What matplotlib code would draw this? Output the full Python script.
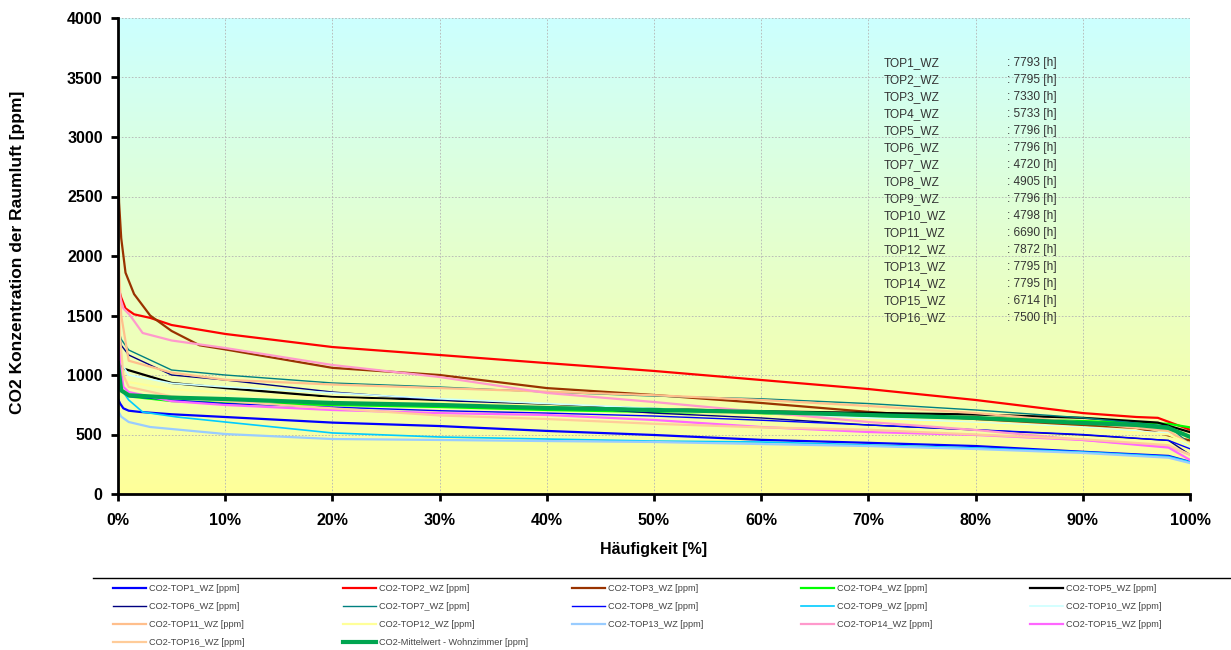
import numpy as np
import matplotlib
matplotlib.use("Agg")
import matplotlib.pyplot as plt
from matplotlib.lines import Line2D
from matplotlib.ticker import FuncFormatter, MultipleLocator

plt.rcParams['font.family'] = ['Liberation Sans', 'DejaVu Sans']

# ---- data: (Häufigkeit %, CO2 ppm) breakpoints ----
x_top1 = [0, 0.2, 0.5, 1, 2, 5, 10, 20, 30, 40, 50, 60, 70, 80, 90, 98, 100]
y_top1 = [800, 760, 720, 700, 690, 670, 647, 600, 571, 530, 496, 455, 430, 403, 355, 320, 270]

x_top2 = [0, 0.3, 0.7, 1.5, 3, 5, 10, 20, 30, 40, 50, 60, 70, 80, 90, 95, 97, 100]
y_top2 = [1750, 1650, 1560, 1510, 1480, 1420, 1345, 1235, 1168, 1100, 1034, 958, 882, 790, 680, 647, 640, 540]

x_top3 = [0, 0.1, 0.3, 0.7, 1.5, 3, 5, 7.6, 10, 20, 30, 40, 50, 60, 70, 80, 90, 95, 100]
y_top3 = [2850, 2450, 2150, 1860, 1680, 1500, 1370, 1250, 1215, 1060, 1000, 890, 832, 765, 690, 630, 580, 555, 450]

x_top4 = [0, 0.3, 1, 5, 10, 20, 30, 40, 50, 60, 70, 80, 90, 98, 100]
y_top4 = [1100, 880, 820, 781, 765, 748, 731, 706, 689, 672, 655, 639, 613, 590, 560]

x_top5 = [0, 0.3, 1, 5, 10, 20, 30, 40, 50, 60, 70, 80, 90, 97, 100]
y_top5 = [1200, 1060, 1040, 933, 890, 815, 790, 748, 715, 695, 682, 668, 640, 600, 520]

x_top6 = [0, 0.3, 1, 5, 10, 20, 30, 40, 50, 60, 70, 80, 90, 98, 100]
y_top6 = [1400, 1250, 1168, 1000, 958, 857, 790, 740, 680, 639, 580, 538, 496, 450, 330]

x_top7 = [0, 0.3, 1, 5, 10, 20, 30, 40, 50, 60, 70, 80, 90, 98, 100]
y_top7 = [1400, 1300, 1210, 1042, 1000, 933, 899, 857, 823, 800, 760, 706, 640, 570, 420]

x_top8 = [0, 0.3, 1, 5, 10, 20, 30, 40, 50, 60, 70, 80, 90, 98, 100]
y_top8 = [1000, 870, 820, 790, 760, 730, 700, 680, 655, 620, 580, 540, 500, 450, 380]

x_top9 = [0, 0.3, 1, 2.3, 5.5, 10, 20, 30, 40, 50, 60, 70, 80, 90, 98, 100]
y_top9 = [950, 880, 790, 689, 647, 605, 513, 479, 462, 445, 437, 412, 387, 353, 315, 270]

x_top10 = [0, 0.3, 1, 5, 10, 20, 30, 40, 50, 60, 70, 80, 90, 98, 100]
y_top10 = [1300, 1100, 1000, 930, 900, 850, 800, 760, 720, 680, 640, 600, 560, 510, 400]

x_top11 = [0, 0.1, 0.3, 1, 5, 10, 20, 30, 40, 50, 60, 70, 80, 90, 98, 100]
y_top11 = [2450, 1900, 1500, 1120, 1020, 960, 920, 890, 860, 830, 790, 740, 680, 600, 530, 420]

x_top12 = [0, 0.3, 1, 5, 10, 20, 30, 40, 50, 60, 70, 80, 90, 98, 100]
y_top12 = [1100, 980, 940, 880, 850, 800, 770, 740, 700, 660, 620, 590, 550, 500, 420]

x_top13 = [0, 0.3, 1, 3, 10, 20, 30, 40, 50, 60, 70, 80, 90, 98, 100]
y_top13 = [700, 650, 605, 563, 504, 462, 454, 445, 437, 420, 403, 378, 345, 305, 260]

x_top14 = [0, 0.2, 0.5, 1.1, 2.3, 5, 10, 20, 30, 40, 50, 60, 70, 80, 90, 98, 100]
y_top14 = [1750, 1650, 1560, 1504, 1353, 1290, 1227, 1084, 983, 849, 773, 689, 605, 538, 454, 400, 330]

x_top15 = [0, 0.2, 0.5, 1, 5, 10, 20, 30, 40, 50, 60, 70, 80, 90, 98, 100]
y_top15 = [1650, 1100, 900, 857, 780, 748, 706, 680, 664, 622, 563, 521, 496, 454, 390, 286]

x_top16 = [0, 0.2, 0.5, 1, 5, 10, 20, 30, 40, 50, 60, 70, 80, 90, 98, 100]
y_top16 = [2000, 1300, 1000, 900, 820, 780, 720, 660, 630, 590, 560, 540, 500, 460, 410, 330]

x_mittel = [0, 0.3, 1, 5, 10, 20, 30, 40, 50, 60, 70, 80, 90, 95, 98, 100]
y_mittel = [1100, 870, 830, 810, 798, 765, 748, 723, 706, 689, 664, 639, 597, 580, 555, 480]

series = [
    ("CO2-TOP1_WZ [ppm]", x_top1, y_top1, "#0000ff", 1.6),
    ("CO2-TOP2_WZ [ppm]", x_top2, y_top2, "#ff0000", 1.6),
    ("CO2-TOP3_WZ [ppm]", x_top3, y_top3, "#993300", 1.6),
    ("CO2-TOP4_WZ [ppm]", x_top4, y_top4, "#00ff00", 1.6),
    ("CO2-TOP5_WZ [ppm]", x_top5, y_top5, "#000000", 1.6),
    ("CO2-TOP6_WZ [ppm]", x_top6, y_top6, "#000080", 1.0),
    ("CO2-TOP7_WZ [ppm]", x_top7, y_top7, "#008080", 1.0),
    ("CO2-TOP8_WZ [ppm]", x_top8, y_top8, "#0000ff", 1.0),
    ("CO2-TOP9_WZ [ppm]", x_top9, y_top9, "#00ccff", 1.2),
    ("CO2-TOP10_WZ [ppm]", x_top10, y_top10, "#ccffff", 1.2),
    ("CO2-TOP11_WZ [ppm]", x_top11, y_top11, "#ffbf8c", 1.6),
    ("CO2-TOP12_WZ [ppm]", x_top12, y_top12, "#ffff99", 1.6),
    ("CO2-TOP13_WZ [ppm]", x_top13, y_top13, "#99ccff", 1.6),
    ("CO2-TOP14_WZ [ppm]", x_top14, y_top14, "#ff99cc", 1.6),
    ("CO2-TOP15_WZ [ppm]", x_top15, y_top15, "#ff66ff", 1.6),
    ("CO2-TOP16_WZ [ppm]", x_top16, y_top16, "#ffcc99", 1.6),
    ("CO2-Mittelwert - Wohnzimmer [ppm]", x_mittel, y_mittel, "#00a550", 3.0),
]

info_names = ["TOP1_WZ", "TOP2_WZ", "TOP3_WZ", "TOP4_WZ", "TOP5_WZ", "TOP6_WZ",
              "TOP7_WZ", "TOP8_WZ", "TOP9_WZ", "TOP10_WZ", "TOP11_WZ", "TOP12_WZ",
              "TOP13_WZ", "TOP14_WZ", "TOP15_WZ", "TOP16_WZ"]
info_hours = [7793, 7795, 7330, 5733, 7796, 7796, 4720, 4905, 7796, 4798, 6690, 7872,
              7795, 7795, 6714, 7500]

W, H = 1231, 650
fig = plt.figure(figsize=(W / 100, H / 100), dpi=100)
ax = fig.add_axes([118 / W, 1 - 494 / H, (1190 - 118) / W, (494 - 18) / H])

# gradient background (cyan -> yellow)
top = np.array([0xcc, 0xff, 0xff]) / 255
bot = np.array([0xff, 0xff, 0x99]) / 255
t = np.linspace(0, 1, 256)[:, None]
grad = (top[None, :] * (1 - t) + bot[None, :] * t)[:, None, :]
ax.imshow(grad, extent=[0, 100, 0, 4000], aspect='auto', origin='upper', zorder=0)

for label, xs, ys, c, lw in series:
    ax.plot(xs, ys, color=c, lw=lw, label=label, zorder=3, solid_joinstyle='round')

ax.set_xlim(0, 100)
ax.set_ylim(0, 4000)
ax.xaxis.set_major_locator(MultipleLocator(10))
ax.yaxis.set_major_locator(MultipleLocator(500))
ax.xaxis.set_major_formatter(FuncFormatter(lambda v, p: f"{int(round(v))}%"))
ax.grid(True, color="#b4b4b4", ls=(0, (2, 2)), lw=0.6, zorder=1)
for s in ["top", "right"]:
    ax.spines[s].set_visible(False)
for s in ["left", "bottom"]:
    ax.spines[s].set_linewidth(2)
    ax.spines[s].set_zorder(5)
ax.tick_params(direction='out', length=5, width=2, labelsize=11.5)
ax.tick_params(axis='x', pad=9)
ax.tick_params(axis='y', pad=6)
for lab in ax.get_xticklabels() + ax.get_yticklabels():
    lab.set_fontweight('bold')

ax.set_xlabel("Häufigkeit [%]", fontsize=11.5, fontweight='bold', labelpad=10)
fig.text(18 / W, 1 - 252 / H, "CO2 Konzentration der Raumluft [ppm]", rotation=90,
         fontsize=12.5, fontweight='bold', ha='center', va='center')

# info box
for i, (n, h) in enumerate(zip(info_names, info_hours)):
    yf = (494 - 63 - i * 17) / 476
    ax.text(0.714, yf, n, transform=ax.transAxes, fontsize=8.6, color="#333333",
            va='center', zorder=6)
    ax.text(0.829, yf, f": {h} [h]", transform=ax.transAxes, fontsize=8.6,
            color="#333333", va='center', zorder=6)

# separator line above legend
fig.add_artist(Line2D([93 / W, 1.0], [1 - 578 / H, 1 - 578 / H], color='black', lw=1))

# legend: five columns, row-wise order
handles, labels = ax.get_legend_handles_labels()
col_x = [113, 343, 572, 801, 1030]
for c in range(5):
    idx = list(range(c, len(handles), 5))
    leg = fig.legend([handles[i] for i in idx], [labels[i] for i in idx],
                     loc='upper left', bbox_to_anchor=(col_x[c] / W, 1 - 584 / H),
                     frameon=False, fontsize=6.6, handlelength=3.6, handletextpad=0.35,
                     labelspacing=0.98, borderpad=0, borderaxespad=0)
    for txt in leg.get_texts():
        txt.set_color("#444444")

fig.savefig("out.png", dpi=100)
